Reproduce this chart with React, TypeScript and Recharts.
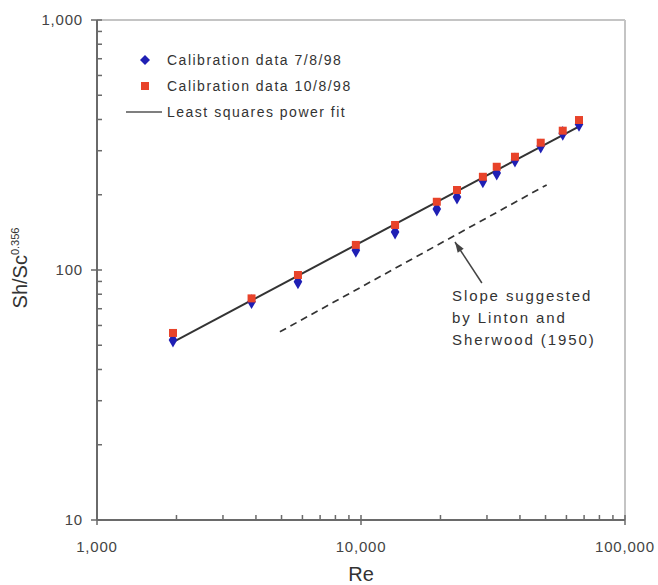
import {
  ScatterChart, Scatter, XAxis, YAxis, ReferenceLine,
} from 'recharts'

const reynolds = [1940, 3850, 5770, 9560, 13460, 19370, 23100, 28950, 32670, 38300, 47950, 58100, 66950]
const shJuly = [52.5, 74.7, 89.8, 120, 141.9, 175.4, 195.9, 227.5, 244.3, 275.4, 313, 352, 383]
const shOctober = [56, 77, 95.5, 126, 151.4, 187.5, 208.9, 236, 258.8, 283.8, 323, 360.8, 398]

const fitLine = [{ re: 1940, sh: 51.5 }, { re: 68500, sh: 380 }]
const lintonLine = [{ re: 4930, sh: 56.6 }, { re: 50500, sh: 219 }]
const arrowSegment = [{ x: 28700, y: 88.7 }, { x: 22700, y: 129.4 }]

const xTicks = [
  1000, 2000, 3000, 4000, 5000, 6000, 7000, 8000, 9000,
  10000, 20000, 30000, 40000, 50000, 60000, 70000, 80000, 90000, 100000,
]
const yTicks = [
  10, 20, 30, 40, 50, 60, 70, 80, 90,
  100, 200, 300, 400, 500, 600, 700, 800, 900, 1000,
]
const xMajor = [1000, 10000, 100000]
const yMajor = [10, 100, 1000]

const julyData = reynolds.map((re, i) => ({ re, sh: shJuly[i] }))
const octData = reynolds.map((re, i) => ({ re, sh: shOctober[i] }))

const AXIS = '#6a6a6a'
const FONT = 'Liberation Sans, Arial, sans-serif'
const fmt = (v: number) => v.toLocaleString('en-US')

const XTick = ({ x, y, payload }: any) => {
  const major = xMajor.includes(payload.value)
  return (
    <g>
      <rect x={x - 0.75} y={y - 5} width={1.5} height={major ? 10 : 5} fill={AXIS} />
      {major && (
        <text x={x} y={y + 32} textAnchor="middle" fontSize={15} letterSpacing={0.8} fill="#444" fontFamily={FONT}>
          {fmt(payload.value)}
        </text>
      )}
    </g>
  )
}

const YTick = ({ x, y, payload }: any) => {
  const major = yMajor.includes(payload.value)
  return (
    <g>
      <rect x={major ? x - 6 : x} y={y - 0.75} width={major ? 11 : 5} height={1.5} fill={AXIS} />
      {major && (
        <text x={x - 14} y={y + 5} textAnchor="end" fontSize={15} letterSpacing={0.8} fill="#444" fontFamily={FONT}>
          {fmt(payload.value)}
        </text>
      )}
    </g>
  )
}

const YLabel = () => (
  <text transform="translate(27,268) rotate(-90)" textAnchor="middle" fontSize={20} fill="#333" fontFamily={FONT}>
    Sh/Sc<tspan fontSize={11} dy={-8}>0.356</tspan>
  </text>
)

const Arrow = ({ x1, y1, x2, y2 }: any) => {
  const ang = Math.atan2(y2 - y1, x2 - x1)
  const len = 11
  const p1 = [x2 - len * Math.cos(ang - 0.33), y2 - len * Math.sin(ang - 0.33)]
  const p2 = [x2 - len * Math.cos(ang + 0.33), y2 - len * Math.sin(ang + 0.33)]
  return (
    <g>
      <line x1={x1} y1={y1} x2={x2} y2={y2} stroke="#444" strokeWidth={1.5} />
      <polygon points={`${x2},${y2} ${p1[0]},${p1[1]} ${p2[0]},${p2[1]}`} fill="#444" />
    </g>
  )
}

const legendItems = [
  { label: 'Calibration data 7/8/98', kind: 'diamond' },
  { label: 'Calibration data 10/8/98', kind: 'square' },
  { label: 'Least squares power fit', kind: 'line' },
]

const Empty = () => <g />

export default function App() {
  return (
    <div style={{ position: 'absolute', left: 0, top: 0, width: 658, height: 585, background: 'white' }}>
      <ScatterChart width={658} height={585} margin={{ top: 20, right: 33, left: 0, bottom: 0 }}>
        <XAxis
          dataKey="re" type="number" scale="log" domain={[1000, 100000]} allowDataOverflow
          ticks={xTicks} interval={0} tick={<XTick />} tickLine={false} tickSize={0} tickMargin={0}
          axisLine={{ stroke: AXIS, strokeWidth: 2 }} height={65}
          label={{ value: 'Re', position: 'insideBottom', offset: 4, fontSize: 20, fill: '#333', fontFamily: FONT }}
        />
        <YAxis
          dataKey="sh" type="number" scale="log" domain={[10, 1000]} allowDataOverflow
          ticks={yTicks} interval={0} minTickGap={0} tick={<YTick />} tickLine={false} tickSize={0} tickMargin={0}
          axisLine={{ stroke: AXIS, strokeWidth: 2 }} width={97}
          label={<YLabel />}
        />
        <ReferenceLine y={1000} stroke="#c4c4c4" strokeWidth={2} />
        <ReferenceLine x={100000} stroke="#c4c4c4" strokeWidth={2} />
        <Scatter data={fitLine} line={{ stroke: '#333', strokeWidth: 2 }} shape={<Empty />} isAnimationActive={false} legendType="none" />
        <Scatter data={lintonLine} line={{ stroke: '#333', strokeWidth: 1.7, strokeDasharray: '7 5' }} shape={<Empty />} isAnimationActive={false} legendType="none" />
        <Scatter data={julyData} shape="diamond" size={70} fill="#1f1fb4" isAnimationActive={false} />
        <Scatter data={octData} shape="square" size={64} fill="#e8432a" isAnimationActive={false} />
        <ReferenceLine segment={arrowSegment} shape={<Arrow />} ifOverflow="visible" />
      </ScatterChart>
      <div style={{ position: 'absolute', left: 122, top: 47, fontFamily: FONT, fontSize: 14, letterSpacing: 1.5, color: '#333' }}>
        {legendItems.map((l) => (
          <div key={l.label} style={{ display: 'flex', alignItems: 'center', height: 26 }}>
            <svg width={40} height={12} style={{ marginRight: 5 }}>
              {l.kind === 'diamond' && <polygon points="23,1 28,6 23,11 18,6" fill="#1f1fb4" />}
              {l.kind === 'square' && <rect x={19} y={2} width={8} height={8} fill="#e8432a" />}
              {l.kind === 'line' && <line x1={4} x2={40} y1={6} y2={6} stroke="#555" strokeWidth={1.5} />}
            </svg>
            <span>{l.label}</span>
          </div>
        ))}
      </div>
      <div style={{ position: 'absolute', left: 452, top: 285, fontFamily: FONT, fontSize: 15, letterSpacing: 1.9, lineHeight: '22px', color: '#333' }}>
        Slope suggested<br />by Linton and<br />Sherwood (1950)
      </div>
    </div>
  )
}
